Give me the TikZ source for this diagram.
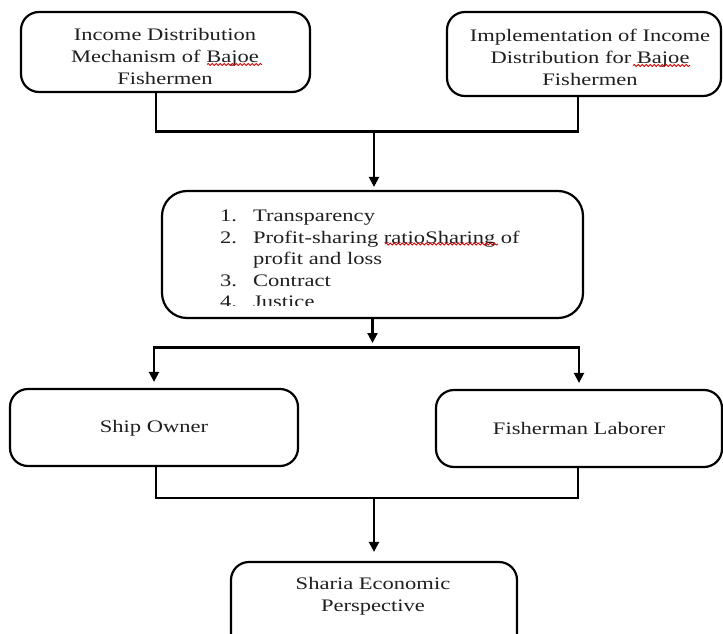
\documentclass[tikz,border=0pt]{standalone}
\usepackage{fontspec}
\setmainfont[FakeStretch=1.28]{Liberation Serif}
\usetikzlibrary{arrows.meta,decorations.pathmorphing}
\begin{document}
\begin{tikzpicture}[x=1pt,y=-1pt,
  box/.style={draw=black, line width=2.2pt, rounded corners=18pt, inner sep=0pt},
  txt/.style={align=center, font=\fontsize{17.6}{21.9}\selectfont, inner sep=0pt, text=black!88},
  conn/.style={draw=black, line width=2.2pt},
  arr/.style={conn, -{Triangle[width=10pt,length=10pt]}},
  spell/.style={draw=red!85!black, line width=0.8pt, decorate,
    decoration={snake, amplitude=1.1pt, segment length=4pt}}]
\useasboundingbox (0,0) rectangle (723,634);
\begin{scope}
\clip (0,0) rectangle (723,634);
% boxes
\node[box, minimum width=289pt, minimum height=80pt] (tl) at (165.5,52) {};
\node[box, minimum width=274pt, minimum height=84pt] (tr) at (584,54) {};
\node[box, rounded corners=25pt, minimum width=421pt, minimum height=127pt] (mid) at (372.5,254.5) {};
\node[box, minimum width=288pt, minimum height=77pt] (so) at (154,427.5) {};
\node[box, minimum width=286pt, minimum height=77pt] (fl) at (579,428.5) {};
\node[box, minimum width=286pt, minimum height=90pt] (sh) at (374,607) {};
% texts
\node[txt] (tlt) at (165,56.5) {Income Distribution\\Mechanism of Bajoe\\Fishermen};
\node[txt] (trt) at (590,57.5) {Implementation of Income\\Distribution for Bajoe\\Fishermen};
\begin{scope}
\clip (150,180) rectangle (600,305);
\node[txt, align=left, anchor=north west] (midt) at (220,210) {%
\makebox[33pt][l]{1.}Transparency\\[-0.4pt]
\makebox[33pt][l]{2.}Profit-sharing ratioSharing of\\[-0.4pt]
\hspace*{33pt}profit and loss\\[-0.4pt]
\makebox[33pt][l]{3.}Contract\\[-0.4pt]
\makebox[33pt][l]{4.}Justice};
\end{scope}
\node[txt] (sot) at (154,428) {Ship Owner};
\node[txt] (flt) at (579,428) {Fisherman Laborer};
\node[txt] (sht) at (373,596.5) {Sharia Economic\\Perspective};
% spell-check marks
\coordinate (s1a) at (207,64.5); \coordinate (s1b) at (262,64.5);
\coordinate (s2a) at (633,65.5); \coordinate (s2b) at (690,65.5);
\coordinate (s3a) at (385,244); \coordinate (s3b) at (498,244);
\draw[spell] (s1a) -- (s1b);
\draw[spell] (s2a) -- (s2b);
\draw[spell] (s3a) -- (s3b);
% connectors
\coordinate (j1) at (374,131.5);
\coordinate (j2) at (372.5,347.5);
\coordinate (j3) at (374,498);
\draw[conn] ([xshift=-9.5pt]tl.south) |- (j1) -| ([xshift=-6pt]tr.south);
\draw[arr, shorten >=3pt] (j1) -- (j1 |- mid.north);
\draw[arr, shorten >=4.5pt] (mid.south) -- (j2);
\draw[arr, shorten >=6pt] (j2) -| (so.north);
\draw[arr, shorten >=6pt] (j2) -| (fl.north);
\draw[conn] ([xshift=2pt]so.south) |- (j3) -| ([xshift=-1pt]fl.south);
\draw[arr, shorten >=9pt] (j3) -- (j3 |- sh.north);
\end{scope}
\end{tikzpicture}
\end{document}
